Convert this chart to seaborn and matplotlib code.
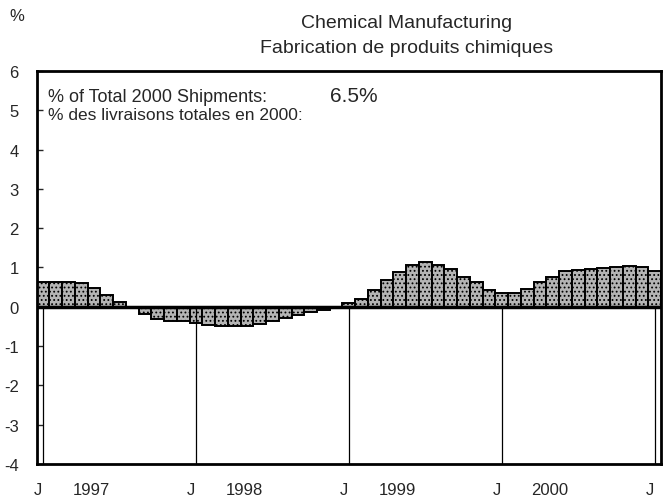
import numpy as np
import pandas as pd
import seaborn as sns
import matplotlib.pyplot as plt
from matplotlib.transforms import blended_transform_factory

# monthly change, Jan 1997 .. Jan 2001 (%)
values = [0.62, 0.63, 0.62, 0.60, 0.47, 0.30, 0.12, -0.02,
          -0.18, -0.30, -0.36, -0.37, -0.40, -0.47, -0.50, -0.50,
          -0.50, -0.44, -0.36, -0.28, -0.20, -0.12, -0.08, -0.03,
          0.10, 0.20, 0.44, 0.68, 0.88, 1.07, 1.13, 1.07, 0.96, 0.76,
          0.62, 0.44, 0.34, 0.34, 0.45, 0.62, 0.77, 0.91, 0.93, 0.96,
          0.98, 1.01, 1.03, 1.01, 0.90]
months = list(range(len(values)))
jan_idx = [0, 12, 24, 36, 48]
years = ["1997", "1998", "1999", "2000"]
yticks = [6, 5, 4, 3, 2, 1, 0, -1, -2, -3, -4]

sns.set_style("white")
plt.rcParams['font.family'] = ['Liberation Sans', 'DejaVu Sans']
plt.rcParams['hatch.linewidth'] = 0.8

df = pd.DataFrame({"month": months, "value": values})

fig = plt.figure(figsize=(6.65, 5.02), dpi=100)
ax = fig.add_axes([0.0552, 0.0737, 0.9388, 0.7829])

sns.barplot(data=df, x="month", y="value", width=1.0, color="#a8a8a8",
            edgecolor="black", linewidth=1.4, hatch="....", saturation=1,
            ax=ax)
for p in ax.patches:
    p.set_facecolor("#b4b4b4")

ax.set_xlim(-0.5, len(values) - 0.5)
ax.set_ylim(-4, 6)
ax.axhline(0, color="black", lw=2.5, zorder=5)
for j in jan_idx:
    ax.plot([j, j], [-4, 0], color="black", lw=0.9, zorder=1)

ax.set_yticks(yticks)
ax.set_yticklabels([str(t) for t in yticks])
ax.tick_params(axis='y', direction='in', length=4, width=1, pad=13,
               labelsize=12, left=True)
ax.set_xticks([])
ax.set_xlabel("")
ax.set_ylabel("")
for s in ax.spines.values():
    s.set_linewidth(2)
    s.set_color("black")

tr = blended_transform_factory(ax.transData, ax.transAxes)
for j in jan_idx:
    ax.text(j - 0.4, -0.065, "J", transform=tr, ha="center", va="center",
            fontsize=12)
for j, yr in zip(jan_idx, years):
    ax.text(j + 3.8, -0.065, yr, transform=tr, ha="center", va="center",
            fontsize=12)

ax.text(0.018, 0.934, "% of Total 2000 Shipments:", transform=ax.transAxes,
        ha="left", va="center", fontsize=13)
ax.text(0.47, 0.937, "6.5%", transform=ax.transAxes, ha="left",
        va="center", fontsize=15)
ax.text(0.018, 0.889, "% des livraisons totales en 2000:",
        transform=ax.transAxes, ha="left", va="center", fontsize=12.5)

fig.text(0.026, 0.968, "%", ha="center", va="center", fontsize=12)
fig.text(0.612, 0.954, "Chemical Manufacturing", ha="center", va="center",
         fontsize=14)
fig.text(0.612, 0.904, "Fabrication de produits chimiques", ha="center",
         va="center", fontsize=14)

fig.savefig("out.png", dpi=100)
